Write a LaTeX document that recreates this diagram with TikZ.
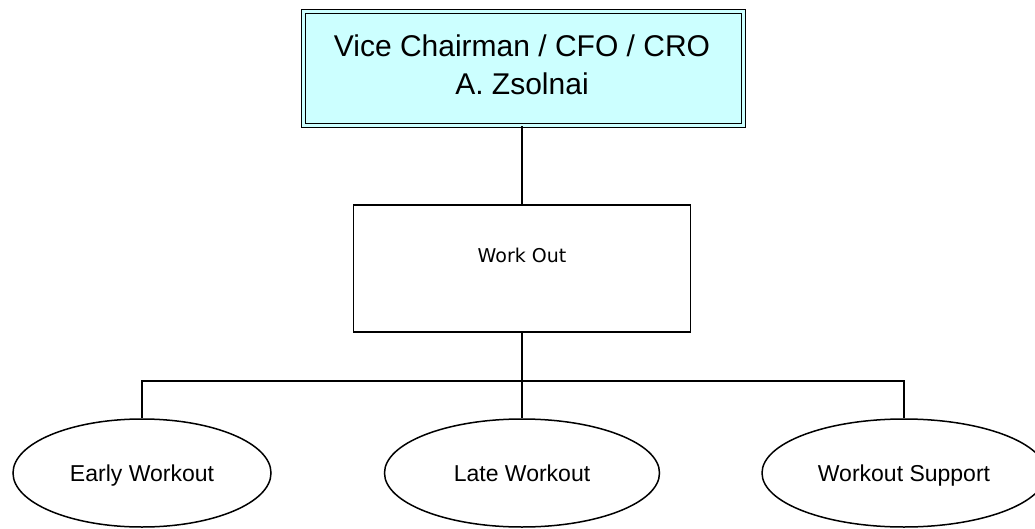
\documentclass[tikz,border=0pt]{standalone}
\usepackage{fontspec}
\setmainfont{Liberation Sans}
\newfontfamily\wofont{DejaVu Sans}
\usetikzlibrary{shapes.geometric}
\definecolor{headfill}{HTML}{CCFFFF}
\begin{document}
\begin{tikzpicture}[x=1pt,y=-1pt,line width=1.5pt,
  headbox/.style={draw,double=headfill,double distance=2.4pt,line width=1.2pt,
    fill=headfill,minimum width=440pt,minimum height=114pt,inner sep=0pt},
  headtext/.style={align=center,anchor=base,font=\fontsize{30}{38}\selectfont},
  unitbox/.style={draw,line width=1.5pt,fill=white,minimum width=337pt,inner sep=0pt,
    text height=57pt,text depth=70pt,font=\wofont\fontsize{19}{22}\selectfont},
  teamoval/.style={ellipse,draw,line width=1.5pt,fill=white,minimum height=108pt,inner sep=0pt,
    text height=16pt,text depth=0pt,font=\fontsize{23}{27}\selectfont}
]
\clip (0,0) rectangle (1035,529);
\fill[white] (0,0) rectangle (1035,529);
\node[headbox] (top) at (523.5,68.5) {};
\node[headtext] (toptext) at (522,95) {Vice Chairman / CFO / CRO\\A. Zsolnai};
\node[unitbox] (wo) at (522,268.5) {Work Out};
\node[teamoval,minimum width=258pt] (e1) at (142,473) {Early Workout};
\node[teamoval,minimum width=275pt] (e2) at (522,473) {Late Workout};
\node[teamoval,minimum width=284pt] (e3) at (904,473) {Workout Support};
\coordinate (bus) at (522,381);
\draw (top.south -| wo.north) -- (wo.north);
\draw (wo.south) -- (bus);
\draw (bus) -- (e2.north);
\draw (e1.north) |- (bus);
\draw (e3.north) |- (bus);
\end{tikzpicture}
\end{document}
